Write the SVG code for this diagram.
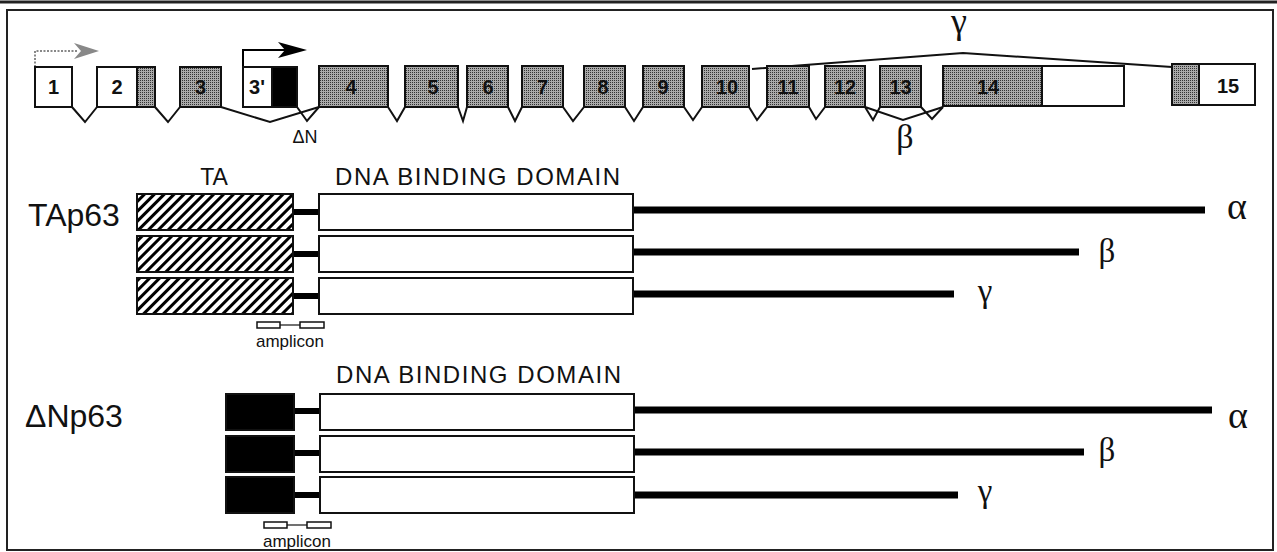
<svg xmlns="http://www.w3.org/2000/svg" width="1277" height="552" viewBox="0 0 1277 552">
<style>
.ex{stroke:#111;stroke-width:2}
.sh{fill:url(#stip)}
.wh{fill:#fff}
.bk{fill:#000}
.el{font-family:"Liberation Sans",Arial,sans-serif;font-weight:bold;font-size:20px;text-anchor:middle;fill:#111}
.sans{font-family:"Liberation Sans",Arial,sans-serif;fill:#111}
.gr{font-family:"Liberation Serif","Times New Roman",serif;fill:#111;text-anchor:middle}
.intr{fill:none;stroke:#111;stroke-width:2;stroke-linejoin:miter}
.tail{stroke:#000;stroke-width:7}
.link{stroke:#000;stroke-width:6}
.dom{fill:#fff;stroke:#111;stroke-width:2}
.ta{fill:url(#hatch);stroke:#111;stroke-width:2}
.amp{fill:#fff;stroke:#111;stroke-width:1.5}
</style>
<defs>
<pattern id="stip" width="2" height="2" patternUnits="userSpaceOnUse">
<rect width="2" height="2" fill="#aaaaaa"/>
<rect width="1" height="1" fill="#333"/>
</pattern>
<pattern id="hatch" width="7" height="7" patternUnits="userSpaceOnUse" patternTransform="rotate(45)">
<rect width="7" height="7" fill="#fff"/>
<rect width="3" height="7" fill="#000"/>
</pattern>
</defs>
<rect width="1277" height="552" fill="#fff"/>
<line x1="0" y1="2" x2="1277" y2="2" stroke="#222" stroke-width="3"/>
<rect x="7" y="10" width="1266" height="540" fill="none" stroke="#222" stroke-width="2"/>

<g id="promoters">
<g id="promoter-TA">
<polyline points="35,67 35,51 78,51" fill="none" stroke="#888" stroke-width="2" stroke-dasharray="2,1.5"/>
<polygon points="99,51 74,43 81,51 74,59" fill="#888"/>
</g>
<g id="promoter-dN">
<polyline points="243,66 243,50 286,50" fill="none" stroke="#000" stroke-width="2"/>
<polygon points="307,50 278,42 285,50 278,58" fill="#000"/>
</g>
</g>

<g id="connectors">
<polyline class="intr" points="72,107 85,122 97,107"/>
<polyline class="intr" points="155,107 168,122 180,107"/>
<polyline class="intr" points="221,107 270,122 319,107"/>
<polyline class="intr" points="297,107 307,121 319,107"/>
<polyline class="intr" points="388,107 397,121 405,107"/>
<polyline class="intr" points="458,107 463,121 467,107"/>
<polyline class="intr" points="508,107 515,121 522,107"/>
<polyline class="intr" points="563,107 573,121 584,107"/>
<polyline class="intr" points="625,107 634,121 643,107"/>
<polyline class="intr" points="684,107 693,120 702,107"/>
<polyline class="intr" points="749,107 757,120 767,107"/>
<polyline class="intr" points="809,107 816,119 825,107"/>
<polyline class="intr" points="865,107 873,120 880,107"/>
<polyline class="intr" points="921,107 932,119 943,107"/>
<polyline id="splice-beta" class="intr" points="865,107 903,120 943,107"/>
<polyline id="splice-gamma" class="intr" points="752,69 963,53 1172,67"/>
<line class="link" x1="293" y1="212" x2="319" y2="212"/>
<line class="link" x1="293" y1="254" x2="319" y2="254"/>
<line class="link" x1="293" y1="296" x2="319" y2="296"/>
<line class="tail" x1="633" y1="210" x2="1205" y2="210"/>
<line class="tail" x1="633" y1="252" x2="1079" y2="252"/>
<line class="tail" x1="633" y1="294" x2="954" y2="294"/>
<line class="link" x1="294" y1="411" x2="320" y2="411"/>
<line class="link" x1="294" y1="453" x2="320" y2="453"/>
<line class="link" x1="294" y1="495" x2="320" y2="495"/>
<line class="tail" x1="634" y1="410" x2="1212" y2="410"/>
<line class="tail" x1="634" y1="452" x2="1084" y2="452"/>
<line class="tail" x1="634" y1="495" x2="958" y2="495"/>
</g>

<g id="exons">
<g id="exon1"><rect class="ex wh" x="35" y="67" width="37" height="40"/><text class="el" x="53.5" y="94">1</text></g>
<g id="exon2"><rect class="ex wh" x="97" y="67" width="40" height="40"/><rect class="ex sh" x="137" y="67" width="18" height="40"/><text class="el" x="117" y="94">2</text></g>
<g id="exon3"><rect class="ex sh" x="180" y="67" width="41" height="40"/><text class="el" x="200.5" y="94">3</text></g>
<g id="exon3p"><rect class="ex wh" x="243" y="67" width="29" height="40"/><rect class="ex bk" x="272" y="67" width="25" height="40"/><text class="el" x="257" y="94">3'</text></g>
<g id="exon4"><rect class="ex sh" x="319" y="66" width="69" height="41"/><text class="el" x="351" y="94">4</text></g>
<g id="exon5"><rect class="ex sh" x="405" y="66" width="53" height="41"/><text class="el" x="433" y="94">5</text></g>
<g id="exon6"><rect class="ex sh" x="467" y="66" width="41" height="41"/><text class="el" x="488" y="94">6</text></g>
<g id="exon7"><rect class="ex sh" x="522" y="66" width="41" height="41"/><text class="el" x="542.5" y="94">7</text></g>
<g id="exon8"><rect class="ex sh" x="584" y="66" width="41" height="41"/><text class="el" x="603" y="94">8</text></g>
<g id="exon9"><rect class="ex sh" x="643" y="66" width="41" height="41"/><text class="el" x="663" y="94">9</text></g>
<g id="exon10"><rect class="ex sh" x="702" y="66" width="47" height="41"/><text class="el" x="727" y="94">10</text></g>
<g id="exon11"><rect class="ex sh" x="767" y="66" width="42" height="41"/><text class="el" x="788" y="94">11</text></g>
<g id="exon12"><rect class="ex sh" x="825" y="66" width="40" height="41"/><text class="el" x="845" y="94">12</text></g>
<g id="exon13"><rect class="ex sh" x="880" y="66" width="41" height="41"/><text class="el" x="900.5" y="94">13</text></g>
<g id="exon14"><rect class="ex sh" x="943" y="66" width="99" height="40"/><rect class="ex wh" x="1042" y="66" width="82" height="40"/><text class="el" x="988" y="94">14</text></g>
<g id="exon15"><rect class="ex sh" x="1172" y="64" width="27" height="41"/><rect class="ex wh" x="1199" y="64" width="56" height="41"/><text class="el" x="1228" y="93">15</text></g>
</g>

<g id="exon-labels">
<text class="sans" x="305" y="143" font-size="18" text-anchor="middle">ΔN</text>
<text class="gr" x="905" y="148" font-size="34">β</text>
<text class="gr" x="959" y="33" font-size="36">γ</text>
</g>

<g id="TAp63">
<text class="sans" x="28" y="226" font-size="32">TAp63</text>
<text class="sans" x="214" y="185" font-size="23" text-anchor="middle">TA</text>
<text class="sans" x="335" y="185" font-size="24" textLength="285" lengthAdjust="spacing">DNA BINDING DOMAIN</text>
<g id="TA-alpha"><rect class="ta" x="137" y="194" width="156" height="36"/><rect class="dom" x="319" y="194" width="314" height="36"/><text class="gr" x="1237" y="219" font-size="38">α</text></g>
<g id="TA-beta"><rect class="ta" x="137" y="236" width="156" height="36"/><rect class="dom" x="319" y="236" width="314" height="36"/><text class="gr" x="1107" y="262" font-size="33">β</text></g>
<g id="TA-gamma"><rect class="ta" x="137" y="278" width="156" height="36"/><rect class="dom" x="319" y="278" width="314" height="36"/><text class="gr" x="985" y="302" font-size="33">γ</text></g>
<g id="TA-amplicon">
<rect class="amp" x="257" y="322" width="23" height="6"/>
<rect class="amp" x="300" y="322" width="24" height="6"/>
<line x1="280" y1="325" x2="300" y2="325" stroke="#111" stroke-width="1.2"/>
<text class="sans" x="290" y="347" font-size="17" text-anchor="middle">amplicon</text>
</g>
</g>

<g id="dNp63">
<text class="sans" x="25" y="427" font-size="32">ΔNp63</text>
<text class="sans" x="336" y="383" font-size="24" textLength="285" lengthAdjust="spacing">DNA BINDING DOMAIN</text>
<g id="dN-alpha"><rect class="ex bk" x="226" y="394" width="68" height="36"/><rect class="dom" x="320" y="394" width="314" height="36"/><text class="gr" x="1238" y="428" font-size="38">α</text></g>
<g id="dN-beta"><rect class="ex bk" x="226" y="436" width="68" height="36"/><rect class="dom" x="320" y="436" width="314" height="36"/><text class="gr" x="1107" y="461" font-size="33">β</text></g>
<g id="dN-gamma"><rect class="ex bk" x="226" y="477" width="68" height="36"/><rect class="dom" x="320" y="477" width="314" height="36"/><text class="gr" x="985" y="502" font-size="33">γ</text></g>
<g id="dN-amplicon">
<rect class="amp" x="264" y="522" width="23" height="6"/>
<rect class="amp" x="307" y="522" width="24" height="6"/>
<line x1="287" y1="525" x2="307" y2="525" stroke="#111" stroke-width="1.2"/>
<text class="sans" x="297" y="547" font-size="17" text-anchor="middle">amplicon</text>
</g>
</g>
</svg>
